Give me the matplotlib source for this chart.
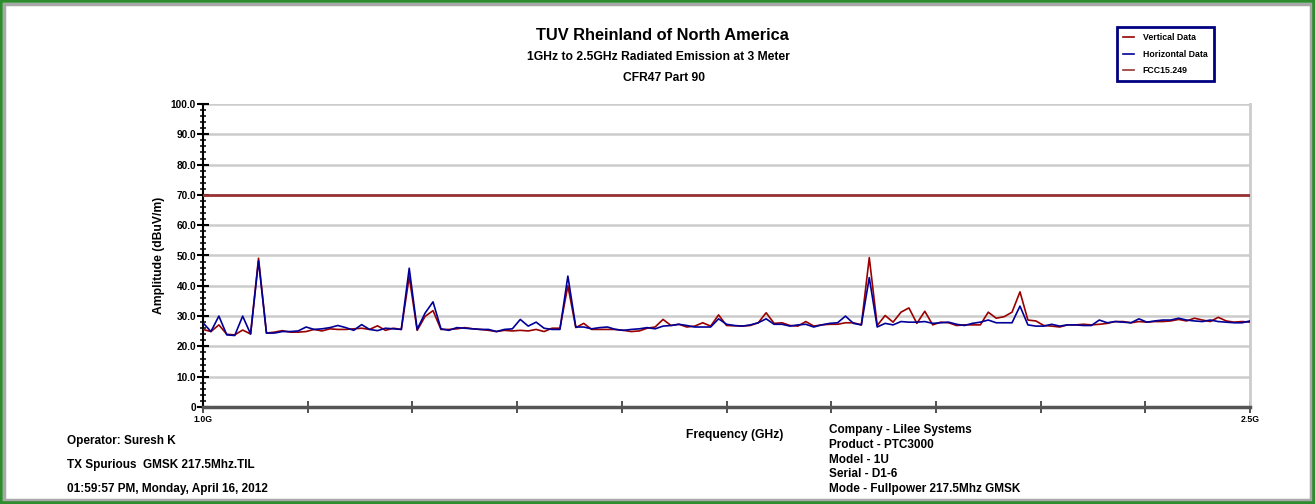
# radiated emission scan, 1 - 2.5 GHz, vertical / horizontal antenna
import numpy as np
import matplotlib
matplotlib.use("Agg")
import matplotlib.pyplot as plt
from matplotlib.patches import Rectangle
from matplotlib.ticker import MultipleLocator, FixedLocator

plt.rcParams['font.family'] = ['Liberation Sans', 'DejaVu Sans']
plt.rcParams['font.weight'] = 'bold'

# sweep: 133 points from 1.0 to 2.5 GHz
freq_ghz = np.linspace(1.0, 2.5, 133)

vertical = [
    25.6, 24.9, 27.1, 24.0, 23.8, 25.4, 24.1, 49.1, 24.4, 24.7,
    25.2, 24.7, 24.7, 24.9, 25.6, 25.1, 25.8, 25.6, 25.6, 25.8,
    26.0, 25.6, 26.8, 25.3, 26.0, 25.6, 43.0, 25.3, 29.9, 31.8,
    25.6, 25.6, 25.8, 26.2, 25.8, 25.6, 25.3, 24.9, 25.3, 25.1,
    25.3, 25.1, 25.6, 24.9, 26.0, 26.0, 40.0, 26.2, 27.6, 25.6,
    25.6, 25.6, 25.6, 25.3, 24.9, 25.1, 26.0, 26.4, 28.9, 26.9,
    27.3, 26.4, 26.7, 27.8, 26.7, 30.4, 26.9, 26.8, 26.7, 26.9,
    27.8, 31.1, 27.6, 27.8, 26.9, 26.7, 28.2, 26.7, 27.1, 27.3,
    27.3, 27.8, 27.8, 27.1, 49.3, 26.9, 30.2, 28.0, 31.3, 32.7,
    27.6, 31.6, 27.1, 28.0, 27.8, 26.9, 27.1, 27.1, 27.1, 31.3,
    29.3, 29.8, 31.3, 38.0, 28.7, 28.4, 26.9, 26.7, 26.4, 27.1,
    27.1, 27.3, 27.1, 27.3, 27.6, 28.2, 28.2, 27.8, 28.2, 28.0,
    28.2, 28.2, 28.4, 28.9, 28.4, 29.3, 28.7, 28.2, 29.6, 28.4,
    28.0, 28.2, 28.0,
]

horizontal = [
    27.8, 24.9, 30.0, 23.8, 23.6, 30.0, 24.1, 48.2, 24.4, 24.4,
    24.9, 24.9, 25.1, 26.4, 25.6, 25.8, 26.2, 26.9, 26.2, 25.3,
    27.2, 25.6, 25.2, 26.0, 25.8, 25.6, 45.8, 25.6, 31.0, 34.7,
    25.8, 25.3, 26.2, 26.0, 25.8, 25.6, 25.6, 24.9, 25.6, 25.8,
    28.9, 26.7, 28.0, 26.0, 25.6, 25.6, 43.2, 26.4, 26.4, 25.8,
    26.2, 26.4, 25.6, 25.3, 25.6, 25.8, 26.2, 25.8, 26.7, 26.9,
    27.3, 26.9, 26.4, 26.4, 26.4, 29.1, 27.3, 26.9, 26.7, 27.1,
    27.8, 29.1, 27.3, 27.3, 26.7, 27.1, 27.3, 26.4, 27.1, 27.6,
    27.8, 30.0, 27.6, 27.1, 42.7, 26.4, 27.6, 27.1, 28.2, 28.0,
    28.0, 28.2, 27.6, 27.8, 28.0, 27.3, 26.9, 27.6, 28.0, 28.7,
    27.8, 27.8, 27.8, 33.3, 27.1, 26.7, 26.7, 27.3, 26.7, 27.1,
    27.1, 26.9, 26.9, 28.7, 27.8, 28.2, 28.0, 27.8, 29.1, 28.0,
    28.4, 28.7, 28.7, 29.3, 28.7, 28.4, 28.2, 28.7, 28.2, 28.0,
    27.8, 27.8, 28.4,
]

fcc_limit = 70.0

y_ticks = [0, 10, 20, 30, 40, 50, 60, 70, 80, 90, 100]
y_labels = ["0", "10.0", "20.0", "30.0", "40.0", "50.0", "60.0", "70.0", "80.0", "90.0", "100.0"]
x_ticks = [1.0, 1.15, 1.3, 1.45, 1.6, 1.75, 1.9, 2.05, 2.2, 2.35, 2.5]
x_labels = ["1.0G", "", "", "", "", "", "", "", "", "", "2.5G"]

left_notes = ["Operator: Suresh K", "TX Spurious  GMSK 217.5Mhz.TIL",
              "01:59:57 PM, Monday, April 16, 2012"]
right_notes = ["Company - Lilee Systems", "Product - PTC3000", "Model - 1U",
               "Serial - D1-6", "Mode - Fullpower 217.5Mhz GMSK"]

W, H = 1315, 504
fig = plt.figure(figsize=(W / 100, H / 100), dpi=100)
fig.patch.set_facecolor('white')

def fx(px):
    return px / W

def fy(py):
    return 1 - py / H

ax = fig.add_axes([fx(203), fy(407), fx(1250) - fx(203), fy(104) - fy(407)])

red = '#990000'
blue = '#000099'
ax.plot(freq_ghz, vertical, color=red, lw=1.2, zorder=3)
ax.plot(freq_ghz, horizontal, color=blue, lw=1.2, zorder=4)
ax.axhline(fcc_limit, color='#993333', lw=2, zorder=3)

ax.set_xlim(1.0, 2.5)
ax.set_ylim(0, 100)

ax.yaxis.set_major_locator(FixedLocator(y_ticks))
ax.set_yticklabels(y_labels)
ax.yaxis.set_minor_locator(MultipleLocator(2))
ax.xaxis.set_major_locator(FixedLocator(x_ticks))
ax.set_xticklabels(x_labels)

ax.grid(axis='y', which='major', color='#cccccc', lw=1.8, zorder=0)
ax.tick_params(axis='y', which='major', direction='inout', length=8, width=1.5,
               labelsize=7.3, pad=1, colors='black')
ax.tick_params(axis='y', which='minor', direction='inout', length=4.5, width=1.1)
ax.tick_params(axis='x', which='major', direction='inout', length=8, width=1.2,
               labelsize=6.3, pad=2, color='#333333')
for lab in ax.get_yticklabels() + ax.get_xticklabels():
    lab.set_fontweight('bold')

ax.spines['top'].set_visible(False)
ax.spines['left'].set_color('black')
ax.spines['left'].set_linewidth(1.5)
ax.spines['bottom'].set_color('#555555')
ax.spines['bottom'].set_linewidth(2.5)
ax.spines['right'].set_color('#cccccc')
ax.spines['right'].set_linewidth(2)

ax.set_ylabel("Amplitude (dBuV/m)", fontsize=8.7, fontweight='bold', labelpad=4)

# titles
fig.text(fx(662), fy(35), "TUV Rheinland of North America", ha='center', va='center',
         fontsize=11.8, fontweight='bold')
fig.text(fx(658), fy(57), "1GHz to 2.5GHz Radiated Emission at 3 Meter", ha='center',
         va='center', fontsize=8.7, fontweight='bold')
fig.text(fx(664), fy(78), "CFR47 Part 90", ha='center', va='center',
         fontsize=8.7, fontweight='bold')

fig.text(fx(735), fy(435), "Frequency (GHz)", ha='center', va='center',
         fontsize=8.7, fontweight='bold')

for i, t in enumerate(left_notes):
    fig.text(fx(67), fy(441 + 24 * i), t, ha='left', va='center', fontsize=8.5,
             fontweight='bold')
for i, t in enumerate(right_notes):
    fig.text(fx(829), fy(430 + 14.8 * i), t, ha='left', va='center', fontsize=8.5,
             fontweight='bold')

# legend box
leg = fig.legend(
    [plt.Line2D([], [], color=red, lw=1.2),
     plt.Line2D([], [], color=blue, lw=1.2),
     plt.Line2D([], [], color='#993333', lw=1.2)],
    ["Vertical Data", "Horizontal Data", "FCC15.249"],
    loc='upper left', bbox_to_anchor=(fx(1117), fy(27)),
    prop={'size': 6.3, 'weight': 'bold'}, handlelength=1.25, handletextpad=1.0,
    labelspacing=0.85, borderpad=0.7, fancybox=False, framealpha=1,
    borderaxespad=0)
leg.get_frame().set_edgecolor('#000080')
leg.get_frame().set_linewidth(2)

# window frame: grey bevel inside a green border
fig.patches.append(Rectangle((fx(4), fy(H - 4)), fx(W - 8), fy(4) - fy(H - 4),
                             transform=fig.transFigure, fill=False,
                             edgecolor='#a8a8a8', lw=2.5))
fig.patches.append(Rectangle((0, 0), 1, 1, transform=fig.transFigure, fill=False,
                             edgecolor='#2e8b2e', lw=4))

fig.savefig("out.png", dpi=100)
